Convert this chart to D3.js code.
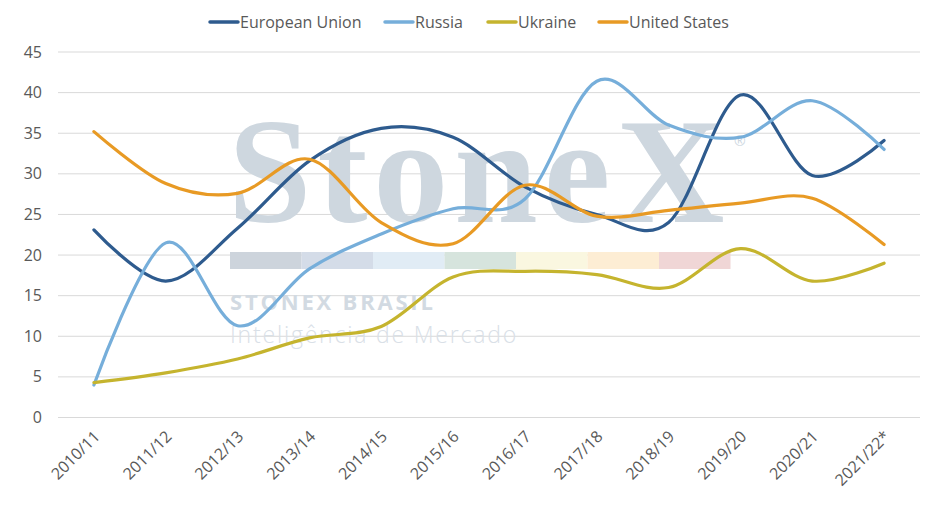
<!DOCTYPE html>
<html>
<head>
<meta charset="utf-8">
<script src="https://cdn.jsdelivr.net/npm/d3@7"></script>
<style>
  body { margin: 0; background: #fff; }
  text { font-family: "Open Sans", "Noto Sans", sans-serif; }
</style>
</head>
<body>
<div id="chart"></div>
<script>
// Chart data
const seasons = ["2010/11", "2011/12", "2012/13", "2013/14", "2014/15", "2015/16",
  "2016/17", "2017/18", "2018/19", "2019/20", "2020/21", "2021/22*"];
const euValues = [23.1, 16.8, 23.3, 31.6, 35.6, 34.5, 28.4, 25.0, 24.0, 39.7, 29.8, 34.1];
const russiaValues = [4.0, 21.5, 11.3, 18.3, 22.6, 25.7, 26.9, 41.4, 36.0, 34.5, 39.0, 33.0];
const ukraineValues = [4.3, 5.5, 7.2, 9.8, 11.2, 17.3, 18.0, 17.6, 16.0, 20.8, 16.8, 19.0];
const usValues = [35.2, 28.8, 27.6, 31.8, 24.0, 21.4, 28.6, 24.8, 25.5, 26.4, 27.0, 21.3];
const seriesNames = ["European Union", "Russia", "Ukraine", "United States"];
const yTicks = [0, 5, 10, 15, 20, 25, 30, 35, 40, 45];

(function(){
  const width = 940, height = 506;
  const margin = {top: 52, right: 20, bottom: 88.5, left: 58};
  const colors = ["#2E5B8E", "#76AEDA", "#C5B42E", "#E89A24"];
  const series = [euValues, russiaValues, ukraineValues, usValues];

  const svg = d3.select("#chart").append("svg")
    .attr("width", width)
    .attr("height", height);

  const x = d3.scalePoint()
    .domain(seasons)
    .range([margin.left, width - margin.right])
    .padding(0.5);

  const y = d3.scaleLinear()
    .domain([0, 45])
    .range([height - margin.bottom, margin.top]);

  // Gridlines
  svg.append("g")
    .selectAll("line")
    .data(yTicks)
    .enter().append("line")
    .attr("x1", margin.left)
    .attr("x2", width - margin.right)
    .attr("y1", d => y(d))
    .attr("y2", d => y(d))
    .style("stroke", "#d9d9d9")
    .style("stroke-width", 1);

  // Watermark
  const wm = svg.append("g").attr("class", "watermark");
  wm.append("text")
    .attr("x", 228)
    .attr("y", 222)
    .style("font-family", "'Liberation Serif', 'DejaVu Serif', serif")
    .style("font-weight", "bold")
    .style("font-size", "150px")
    .style("letter-spacing", "6px")
    .style("fill", "#CED7DF")
    .text("StoneX");
  wm.append("text")
    .attr("x", 734)
    .attr("y", 146)
    .style("font-size", "14px")
    .style("fill", "#CED7DF")
    .text("®");
  const stripe = ["#CDD4DC", "#D4DCE8", "#E1ECF5", "#D6E4DD", "#FAF7E0", "#FDEDD4", "#F0D6D6"];
  wm.selectAll("rect")
    .data(stripe)
    .enter().append("rect")
    .attr("x", (d, i) => 230 + i * 71.5)
    .attr("y", 252)
    .attr("width", 71.5)
    .attr("height", 17)
    .style("fill", d => d);
  wm.append("text")
    .attr("x", 230)
    .attr("y", 310)
    .style("font-weight", "bold")
    .style("font-size", "22px")
    .style("letter-spacing", "2.8px")
    .style("fill", "#D2DAE2")
    .text("STONEX BRASIL");
  wm.append("text")
    .attr("x", 230)
    .attr("y", 343)
    .style("font-weight", "300")
    .style("font-size", "23px")
    .style("letter-spacing", "1.8px")
    .style("fill", "#D9E0E7")
    .text("Inteligência de Mercado");

  // Y axis labels
  svg.append("g")
    .selectAll("text")
    .data(yTicks)
    .enter().append("text")
    .attr("x", 42)
    .attr("y", d => y(d))
    .attr("dy", "0.35em")
    .attr("text-anchor", "end")
    .style("font-size", "16px")
    .style("fill", "#595959")
    .text(d => d);

  // X axis labels
  svg.append("g")
    .selectAll("text")
    .data(seasons)
    .enter().append("text")
    .attr("transform", d => "translate(" + (x(d) + 3) + "," + (y(0) + 16) + ") rotate(-45)")
    .attr("text-anchor", "end")
    .attr("dy", "0.35em")
    .style("font-size", "16px")
    .style("fill", "#595959")
    .text(d => d);

  // Lines
  const line = d3.line()
    .curve(d3.curveCardinal.tension(0))
    .x((d, i) => x(seasons[i]))
    .y(d => y(d));

  svg.append("g")
    .selectAll("path")
    .data(series)
    .enter().append("path")
    .attr("d", line)
    .style("fill", "none")
    .style("stroke", (d, i) => colors[i])
    .style("stroke-width", 3.2)
    .style("stroke-linecap", "round");

  // Legend
  const legendX = [210, 385, 488, 599];
  const legend = svg.append("g")
    .selectAll("g")
    .data(seriesNames)
    .enter().append("g")
    .attr("transform", (d, i) => "translate(" + legendX[i] + ",22)");
  legend.append("line")
    .attr("x1", 0).attr("x2", 28)
    .attr("y1", 0).attr("y2", 0)
    .style("stroke", (d, i) => colors[i])
    .style("stroke-width", 3.5)
    .style("stroke-linecap", "round");
  legend.append("text")
    .attr("x", 30)
    .attr("dy", "0.35em")
    .style("font-size", "16px")
    .style("fill", "#595959")
    .text(d => d);
})();
</script>
</body>
</html>
